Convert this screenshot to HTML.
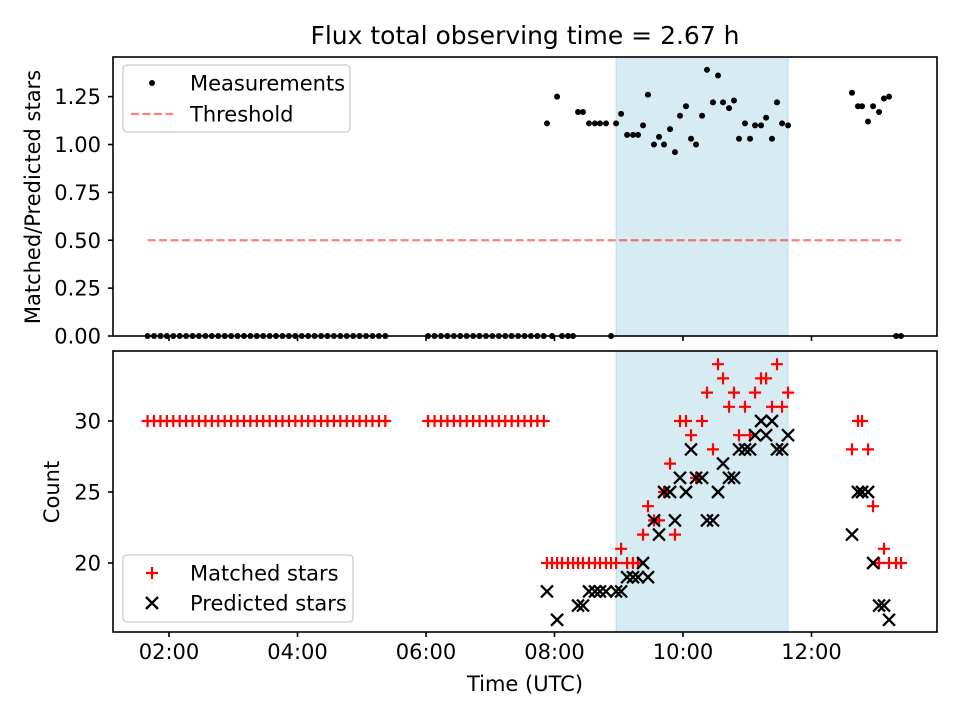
<!DOCTYPE html>
<html><head><meta charset="utf-8"><style>
body{margin:0;background:#fff}
svg{display:block;font-family:"DejaVu Sans","Liberation Sans",sans-serif}
</style></head><body>
<svg id="fig" width="960" height="720" viewBox="0 0 960 720"></svg>
<script>
// times in minutes since 00:00 UTC
const timesA = [100,106,112,118,124,130,136,142,148,154,160,166,172,178,184,190,196,202,208,214,220,226,232,238,244,250,256,262,268,274,280,286,292,298,304,310,316,322];
const timesB = [362,368,374,380,386,392,398,404,410,416,422,428,434,440,446,452,458,464,470];
const zeroTimesExtra = [477.7,487,492.6,497.3,532.8,799,803.6];
const timesC = [473,482.4,502,506.6,512.2,517.8,522.5,528.1,537.5,542.2,547.8,553.3,558,562.7,567.3,572.9,577.6,582.3,587.9,592.5,597.2,602.8,607.5,612.2,617.8,622.4,628,632.7,637.4,643,647.6,652.3,657.9,662.6,667.3,672.9,677.6,683.1,687.8,692.5,698.1,757.8,763.4,767.2,772.8,777.5,783.1,787.7,792.4];
const ratioC = [1.11,1.25,1.17,1.17,1.11,1.11,1.11,1.11,1.11,1.16,1.05,1.05,1.05,1.10,1.26,1.00,1.04,1.00,1.08,0.96,1.15,1.20,1.03,1.00,1.15,1.39,1.22,1.36,1.22,1.19,1.23,1.03,1.11,1.03,1.10,1.10,1.14,1.03,1.22,1.11,1.10,1.27,1.20,1.20,1.12,1.20,1.17,1.24,1.25];
const matchedC = [20,20,20,20,20,20,20,20,20,21,20,20,20,22,24,23,23,25,27,22,30,30,29,26,30,32,28,34,33,31,32,29,31,29,32,33,33,31,34,31,32,28,30,30,28,24,20,21,20];
const predictedC = [18,16,17,17,18,18,18,18,18,18,19,19,19,20,19,23,22,25,25,23,26,25,28,26,26,23,23,25,27,26,26,28,28,28,29,30,29,30,28,28,29,22,25,25,25,20,17,17,16];
const matchedAB = 30;
const matchedExtra = 20;
const threshold = 0.5;
const spanStart = 537.5, spanEnd = 698.1;
const topTicks = [0,0.25,0.5,0.75,1.0,1.25];
const topTickLabels = ["0.00","0.25","0.50","0.75","1.00","1.25"];
const botTicks = [20,25,30];
const xTicks = [120,240,360,480,600,720];
const xTickLabels = ["02:00","04:00","06:00","08:00","10:00","12:00"];

const NS="http://www.w3.org/2000/svg";
const svg=document.getElementById('fig');
function mk(tag,attrs,parent){const e=document.createElementNS(NS,tag);for(const k in attrs)e.setAttribute(k,attrs[k]);(parent||svg).appendChild(e);return e;}
const L=113,R=937,T1=57,B1=336,T2=351,B2=632;
const FS=21;
const xs=m=>169+(m-120)*64.25/60;
const y1=v=>336-v*191.5;
const y2=v=>421-(v-30)*14.2;

const title=mk('text',{x:525,y:44,'text-anchor':'middle','font-size':25});
title.textContent='Flux total observing time = 2.67 h';



function axes(name){
  const g=mk('g',{});
  
  
  return g;
}
const g1=axes('top-axes');
const g2=axes('bottom-axes');
[[g1,T1,B1],[g2,T2,B2]].forEach(([g,t,b])=>{
  const r=mk('rect',{x:xs(spanStart),y:t,width:xs(spanEnd)-xs(spanStart),height:b-t,fill:'#add8e6','fill-opacity':0.5,stroke:'#add8e6','stroke-opacity':0.8},g);
  
  
});
const allT=[].concat(timesA,timesB,zeroTimesExtra,timesC).sort((a,b)=>a-b);
const th=mk('line',{x1:xs(allT[0]),x2:xs(allT[allT.length-1]),y1:y1(threshold),y2:y1(threshold),stroke:'#ff0000','stroke-opacity':0.5,'stroke-width':2.2,'stroke-dasharray':'8,3.5'},g1);


function dot(m,v){const c=mk('circle',{cx:xs(m),cy:y1(v),r:3,fill:'#000'},g1);

}
timesA.forEach(m=>dot(m,0));timesB.forEach(m=>dot(m,0));zeroTimesExtra.forEach(m=>dot(m,0));
timesC.forEach((m,i)=>dot(m,ratioC[i]));
function plus(m,v){const x=xs(m),y=y2(v),s=6;
const p=mk('path',{d:`M${x-s},${y}H${x+s}M${x},${y-s}V${y+s}`,stroke:'#ff0000','stroke-width':2.2,fill:'none'},g2);

}
function cross(m,v){const x=xs(m),y=y2(v),s=6;
const p=mk('path',{d:`M${x-s},${y-s}L${x+s},${y+s}M${x-s},${y+s}L${x+s},${y-s}`,stroke:'#000','stroke-width':2.3,fill:'none'},g2);

}
timesA.forEach(m=>plus(m,matchedAB));timesB.forEach(m=>plus(m,matchedAB));
zeroTimesExtra.forEach(m=>plus(m,matchedExtra));
timesC.forEach((m,i)=>plus(m,matchedC[i]));
timesC.forEach((m,i)=>cross(m,predictedC[i]));
[[g1,T1,B1,false],[g2,T2,B2,true]].forEach(([g,t,b,lab])=>{
  const f=mk('rect',{x:L,y:t,width:R-L,height:b-t,fill:'none',stroke:'#000','stroke-width':1.6},g);
  
  
  xTicks.forEach((m,i)=>{
    mk('line',{x1:xs(m),x2:xs(m),y1:b,y2:b+5,stroke:'#000','stroke-width':1.6},g);
    if(lab){const tx=mk('text',{x:xs(m),y:b+27,'text-anchor':'middle','font-size':FS},g);
      tx.textContent=xTickLabels[i];
      
      }
  });
});
topTicks.forEach((v,i)=>{
  mk('line',{x1:L-5,x2:L,y1:y1(v),y2:y1(v),stroke:'#000','stroke-width':1.6},g1);
  const tx=mk('text',{x:L-12,y:y1(v)+7.5,'text-anchor':'end','font-size':FS},g1);
  tx.textContent=topTickLabels[i];
  
  
});
botTicks.forEach(v=>{
  mk('line',{x1:L-5,x2:L,y1:y2(v),y2:y2(v),stroke:'#000','stroke-width':1.6},g2);
  const tx=mk('text',{x:L-12,y:y2(v)+7.5,'text-anchor':'end','font-size':FS},g2);
  tx.textContent=String(v);
  
  
});
let t=mk('text',{x:525,y:691,'text-anchor':'middle','font-size':FS});t.textContent='Time (UTC)';


t=mk('text',{x:0,y:0,'text-anchor':'middle','font-size':FS,transform:'translate(40,197) rotate(-90)'});t.textContent='Matched/Predicted stars';


t=mk('text',{x:0,y:0,'text-anchor':'middle','font-size':FS,transform:'translate(59,492) rotate(-90)'});t.textContent='Count';


function legend(x,y,w,h,name){const r=mk('rect',{x:x,y:y,width:w,height:h,rx:4,fill:'#fff','fill-opacity':0.8,stroke:'#ccc','stroke-width':1.3});

}
legend(123,65,227,67,'top-legend');
mk('circle',{cx:152,cy:83,r:3,fill:'#000'});
let lt=mk('text',{x:190,y:90.5,'font-size':FS});lt.textContent='Measurements';


mk('line',{x1:131,x2:173,y1:114,y2:114,stroke:'#ff0000','stroke-opacity':0.5,'stroke-width':2.2,'stroke-dasharray':'8,3.5'});
lt=mk('text',{x:190,y:121.5,'font-size':FS});lt.textContent='Threshold';


legend(123,555,230,67,'bottom-legend');
mk('path',{d:'M146,573H158M152,567V579',stroke:'#ff0000','stroke-width':2.2,fill:'none'});
lt=mk('text',{x:190,y:580.5,'font-size':FS});lt.textContent='Matched stars';


mk('path',{d:'M146,597L158,609M146,609L158,597',stroke:'#000','stroke-width':2.3,fill:'none'});
lt=mk('text',{x:190,y:610.5,'font-size':FS});lt.textContent='Predicted stars';


</script>
</body></html>
